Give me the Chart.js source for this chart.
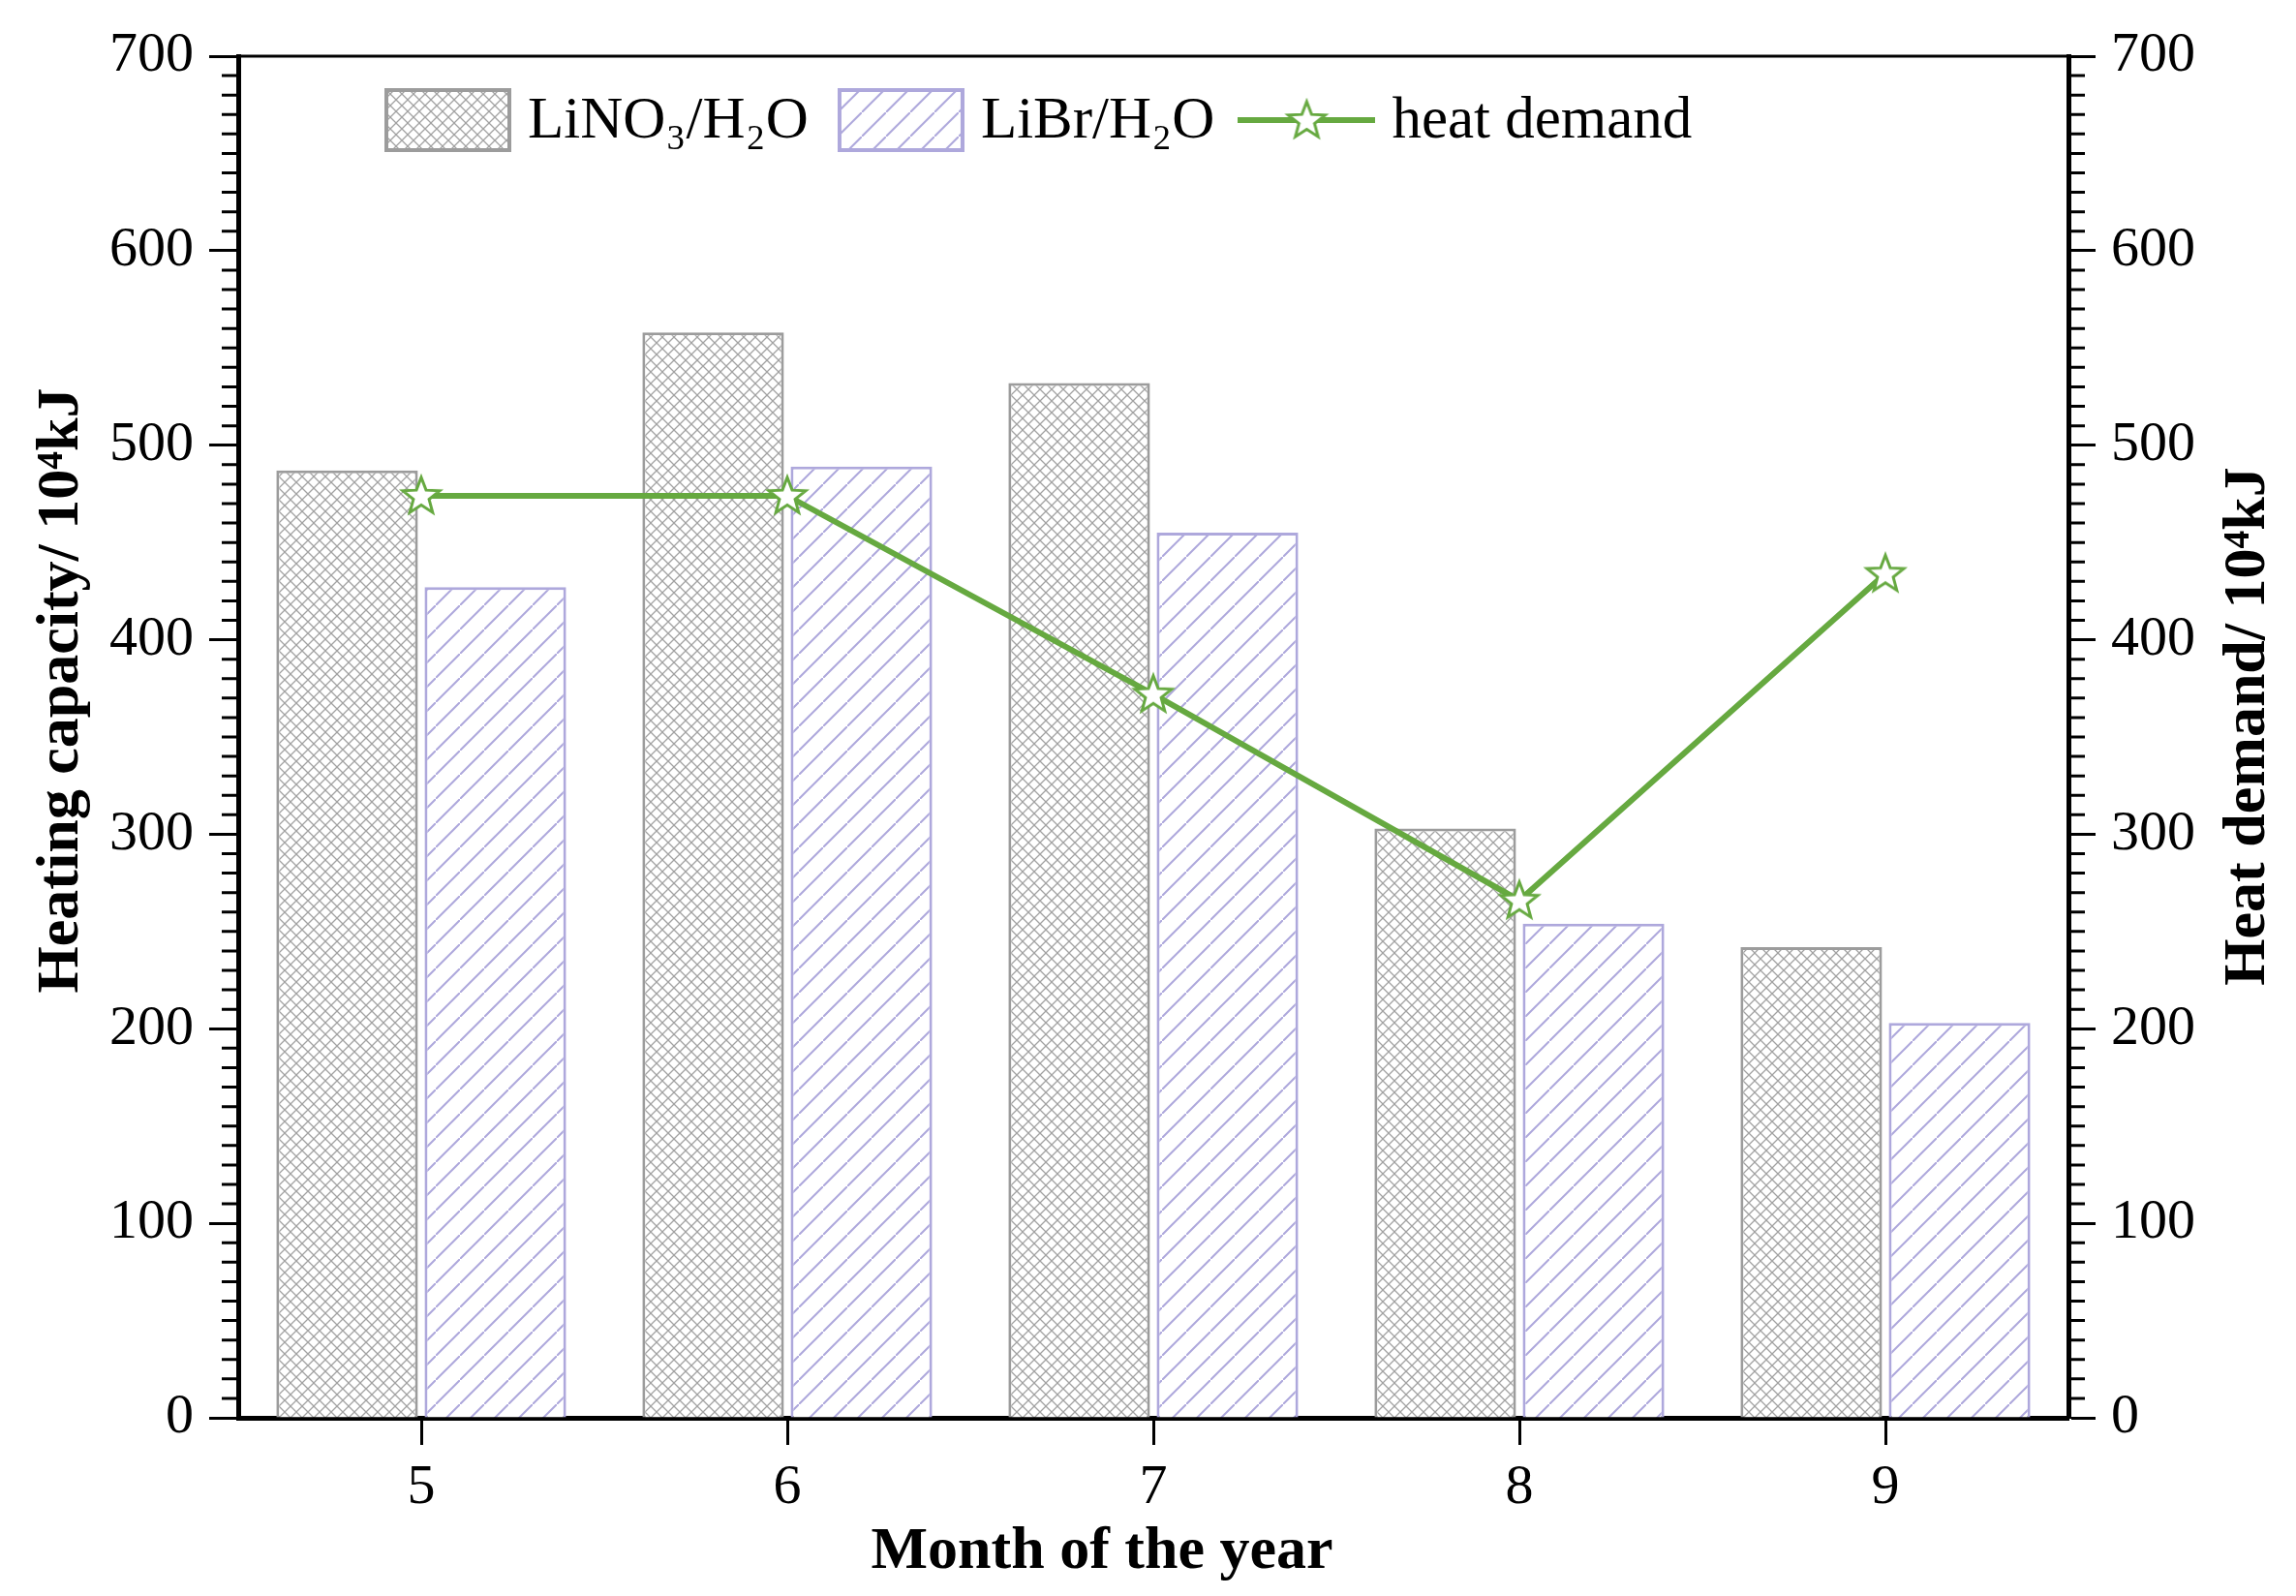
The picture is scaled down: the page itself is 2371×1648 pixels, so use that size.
<!DOCTYPE html>
<html lang="en">
<head>
<script src="https://cdn.jsdelivr.net/npm/chart.js"></script>
<style>
  body { margin: 0; background: #fff; }
  #wrap { width: 2371px; height: 1648px; }
</style>
</head>
<body>
<div id="wrap"><canvas id="heatChart"></canvas></div>
<script>
  // values
  const months = ['5', '6', '7', '8', '9'];
  const lino3 = [487, 558, 532, 303, 242];
  const libr = [427, 489, 455, 254, 203];
  const heatDemand = [474, 474, 372, 266, 434];
  const yTicks = [0, 100, 200, 300, 400, 500, 600, 700];
  const legendNames = ['LiNO\u2083/H\u2082O', 'LiBr/H\u2082O', 'heat demand'];

  const GREEN = '#66a940';
  const GREY = '#9c9c9c';
  const LAVENDER = '#aea8dc';
  const SERIF = "'Liberation Serif', 'Times New Roman', serif";

  function tile(w, h, draw) {
    const c = document.createElement('canvas');
    c.width = w; c.height = h;
    draw(c.getContext('2d'));
    return c;
  }

  const meshTile = tile(12, 12, g => {
    g.fillStyle = '#fff'; g.fillRect(0, 0, 12, 12);
    g.strokeStyle = '#a2a2a2'; g.lineWidth = 1.3;
    g.beginPath();
    g.moveTo(0, 0); g.lineTo(12, 12);
    g.moveTo(12, 0); g.lineTo(0, 12);
    g.stroke();
  });
  const hatchTile = tile(25, 25, g => {
    g.fillStyle = '#fff'; g.fillRect(0, 0, 25, 25);
    g.strokeStyle = LAVENDER; g.lineWidth = 2;
    g.beginPath();
    g.moveTo(-2, 27); g.lineTo(27, -2);
    g.stroke();
  });
  const pctx = document.createElement('canvas').getContext('2d');
  const meshPattern = pctx.createPattern(meshTile, 'repeat');
  const hatchPattern = pctx.createPattern(hatchTile, 'repeat');

  function starPath(g, cx, cy, ro, ri) {
    g.beginPath();
    for (let i = 0; i < 10; i++) {
      const r = i % 2 ? ri : ro;
      const a = -Math.PI / 2 + i * Math.PI / 5;
      g.lineTo(cx + r * Math.cos(a), cy + r * Math.sin(a));
    }
    g.closePath();
  }
  const starImg = tile(48, 48, g => {
    starPath(g, 24, 25, 20, 8.5);
    g.fillStyle = '#fff'; g.fill();
    g.strokeStyle = GREEN; g.lineWidth = 3; g.stroke();
  });

  // legend swatches
  const swMesh = tile(131, 66, g => {
    g.fillStyle = meshPattern; g.fillRect(0, 0, 131, 66);
    g.strokeStyle = GREY; g.lineWidth = 4; g.strokeRect(2, 2, 127, 62);
  });
  const swHatch = tile(131, 66, g => {
    g.fillStyle = hatchPattern; g.fillRect(0, 0, 131, 66);
    g.strokeStyle = LAVENDER; g.lineWidth = 4; g.strokeRect(2, 2, 127, 62);
  });
  const swLine = tile(142, 66, g => {
    g.strokeStyle = GREEN; g.lineWidth = 6;
    g.beginPath(); g.moveTo(0, 33); g.lineTo(142, 33); g.stroke();
    starPath(g, 71, 34, 20, 8.5);
    g.fillStyle = '#fff'; g.fill();
    g.strokeStyle = GREEN; g.lineWidth = 3; g.stroke();
  });
  const swatches = [swMesh, swHatch, swLine];

  const framePlugin = {
    id: 'frame',
    afterDraw(chart) {
      const ctx = chart.ctx;
      const a = chart.chartArea;
      ctx.save();
      ctx.strokeStyle = '#000';
      ctx.lineWidth = 3;
      ctx.beginPath();
      ctx.moveTo(a.left, a.top); ctx.lineTo(a.right, a.top);
      ctx.stroke();
      // minor ticks every 10
      const ys = chart.scales.y, yr = chart.scales.y1;
      ctx.beginPath();
      for (let v = 10; v < 700; v += 10) {
        if (v % 100 === 0) continue;
        const p1 = ys.getPixelForValue(v);
        ctx.moveTo(a.left - 2, p1); ctx.lineTo(a.left - 17, p1);
        const p2 = yr.getPixelForValue(v);
        ctx.moveTo(a.right + 2, p2); ctx.lineTo(a.right + 17, p2);
      }
      ctx.stroke();

      // axis titles
      ctx.fillStyle = '#000';
      ctx.font = 'bold 62px ' + SERIF;
      ctx.textAlign = 'center';
      ctx.textBaseline = 'middle';
      ctx.fillText('Month of the year', 1138, 1603);
      ctx.save();
      ctx.translate(64, 713);
      ctx.rotate(-Math.PI / 2);
      ctx.fillText('Heating capacity/ 10\u2074kJ', 0, 0);
      ctx.restore();
      ctx.save();
      ctx.translate(2322, 750);
      ctx.rotate(-Math.PI / 2);
      ctx.fillText('Heat demand/ 10\u2074kJ', 0, 0);
      ctx.restore();

      // legend inside the plot
      ctx.font = '61px ' + SERIF;
      ctx.textAlign = 'left';
      let x = a.left + 151;
      const cy = a.top + 66;
      legendNames.forEach((name, i) => {
        const sw = swatches[i];
        if (i === 2) x -= 6;
        ctx.drawImage(sw, x, cy - sw.height / 2);
        x += sw.width + 17;
        ctx.fillText(name, x, cy + 2);
        x += ctx.measureText(name).width + 30;
      });
      ctx.restore();
    }
  };

  const tickFont = { family: SERIF, size: 58 };

  new Chart(document.getElementById('heatChart'), {
    data: {
      labels: months,
      datasets: [
        {
          type: 'line',
          label: legendNames[2],
          data: heatDemand,
          yAxisID: 'y1',
          borderColor: GREEN,
          borderWidth: 6,
          pointStyle: starImg,
          tension: 0,
          order: 0
        },
        {
          type: 'bar',
          label: legendNames[0],
          data: lino3,
          yAxisID: 'y',
          backgroundColor: meshPattern,
          borderColor: GREY,
          borderWidth: 3,
          categoryPercentage: 0.81,
          barPercentage: 0.955,
          order: 1
        },
        {
          type: 'bar',
          label: legendNames[1],
          data: libr,
          yAxisID: 'y',
          backgroundColor: hatchPattern,
          borderColor: LAVENDER,
          borderWidth: 3,
          categoryPercentage: 0.81,
          barPercentage: 0.955,
          order: 1
        }
      ]
    },
    options: {
      responsive: true,
      maintainAspectRatio: false,
      animation: false,
      layout: { padding: { top: 58, left: 0, right: 0, bottom: 0 } },
      plugins: {
        tooltip: { enabled: false },
        legend: { display: false }
      },
      scales: {
        x: {
          type: 'category',
          offset: true,
          grid: { display: true, drawOnChartArea: false, offset: false, tickLength: 28, tickWidth: 3, tickColor: '#000' },
          border: { display: true, color: '#000', width: 5 },
          ticks: { color: '#000', font: tickFont, padding: 10 },
          afterFit: s => { s.height = 184; }
        },
        y: {
          position: 'left',
          min: 0, max: 700,
          afterBuildTicks: s => { s.ticks = yTicks.map(v => ({ value: v })); },
          grid: { display: true, drawOnChartArea: false, tickLength: 30, tickWidth: 3, tickColor: '#000' },
          border: { display: true, color: '#000', width: 5 },
          ticks: { color: '#000', font: tickFont, padding: 16 },
          afterFit: s => { s.width = 246; }
        },
        y1: {
          position: 'right',
          min: 0, max: 700,
          afterBuildTicks: s => { s.ticks = yTicks.map(v => ({ value: v })); },
          grid: { display: true, drawOnChartArea: false, tickLength: 28, tickWidth: 3, tickColor: '#000' },
          border: { display: true, color: '#000', width: 5 },
          ticks: { color: '#000', font: tickFont, padding: 16 },
          afterFit: s => { s.width = 235; }
        }
      }
    },
    plugins: [framePlugin]
  });
</script>
</body>
</html>
